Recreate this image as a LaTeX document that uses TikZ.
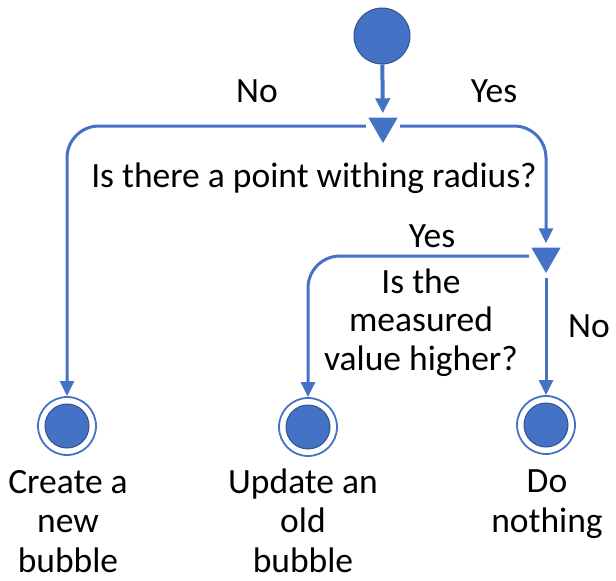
\documentclass[tikz,border=0pt]{standalone}
\usepackage{fontspec}
\setmainfont{Carlito}
\usetikzlibrary{arrows.meta,shapes.geometric}
\definecolor{lblue}{HTML}{4472C4}
\definecolor{dblue}{HTML}{2F528F}
\begin{document}
\begin{tikzpicture}[x=1pt,y=-1pt,
  txt/.style={font=\fontsize{35.5}{38.5}\selectfont, text=black, inner sep=0, align=center, anchor=base},
  bottomtxt/.style={txt, font=\fontsize{35.5}{39.5}\selectfont},
  startnode/.style={circle, fill=lblue, draw=dblue, line width=1pt, minimum size=56pt, inner sep=0},
  decision/.style={regular polygon, regular polygon sides=3, shape border rotate=180, fill=lblue, draw=none, minimum size=34pt, inner sep=0},
  final/.style={circle, draw=lblue, line width=1.8pt, fill=white, minimum size=58pt, inner sep=0,
     path picture={\fill[lblue, draw=dblue, line width=1pt] (path picture bounding box.center) circle (22pt);}},
  conn/.style={draw=lblue, line width=3pt, -{Triangle[width=14pt,length=15pt]}, rounded corners=32pt}
]
\useasboundingbox (0,0) rectangle (616,581);
\node[startnode] (s) at (382,36) {};
\node[decision] (d1) at (383,126) {};
\node[decision] (d2) at (546,256) {};
\node[final] (f1) at (67,426) {};
\node[final] (f2) at (308,427) {};
\node[final] (f3) at (546,425) {};

\draw[conn, line width=4pt, shorten >=4pt] (s) -- (d1);
\draw[conn, shorten <=7pt] (d1.west) -- (f1.north |- d1.west) -- (f1.north);
\draw[conn, shorten <=7pt, shorten >=4pt] (d1.east) -- (d2.north |- d1.east) -- (d2.north);
\draw[conn, shorten <=7pt] (d2.west) -- (f2.north |- d2.west) -- (f2.north);
\draw[conn, shorten <=5pt] (d2.south) -- (f3.north);

\node[txt] (l1) at (257,102) {No};
\node[txt] (l2) at (494,102) {Yes};
\node[txt] (q1) at (314,187) {Is there a point withing radius?};
\node[txt] (l3) at (432,247) {Yes};
\node[txt] (q2) at (421,370) {Is the\\measured\\value higher?};
\node[txt] (l4) at (589,337) {No};
\node[bottomtxt] (t1) at (68,572) {Create a\\new\\bubble};
\node[bottomtxt] (t2) at (303,572) {Update an\\old\\bubble};
\node[bottomtxt] (t3) at (547,532) {Do\\nothing};
\end{tikzpicture}
\end{document}
